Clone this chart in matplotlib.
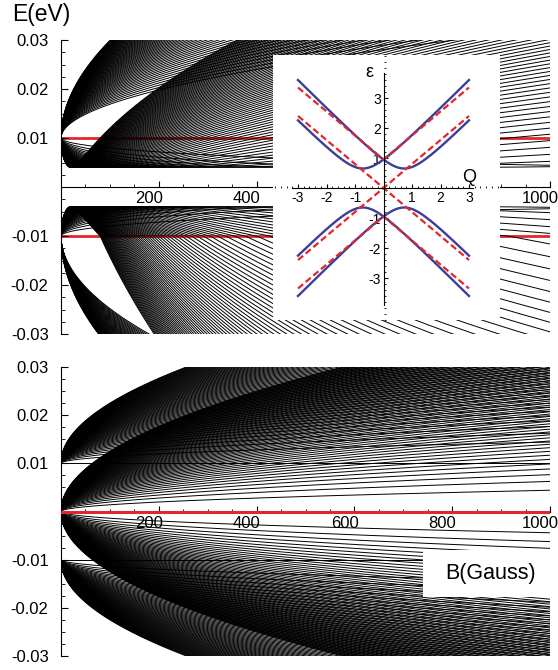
import numpy as np
import matplotlib.pyplot as plt
from matplotlib.patches import Rectangle
from matplotlib.ticker import MultipleLocator, FixedLocator
import matplotlib.transforms as mtransforms

plt.rcParams['font.family'] = ['Liberation Sans', 'DejaVu Sans']

# field axis and level indices
B = np.linspace(0, 1000, 2001)
level_n = np.arange(1, 81)

# energies (eV)
E0 = 0.01             # level position at B = 0
E_min_top = 0.004     # bottom of the mexican hat (top panel)
rate_top = 5.25e-8    # level rate c (eV^2 / G), coupled case
rate_bot = 1.95e-8    # level rate c (eV^2 / G), uncoupled case
first_out_up = 10     # lowest outward level seen above +E0
first_out_low = 34    # lowest outward level seen below -E0
stretch_out_low = 1.15
stretch_ret_low = 2.1

# inset spectrum parameters (dimensionless)
Q = np.linspace(-3, 3, 601)
gap_in = 0.65
shift_in = 0.69
vel_in = 0.95
vel_dash = 0.8
E0_in = 0.95

black_lw = 0.7
red = '#e3262d'
blue = '#3a3f98'

fig = plt.figure(figsize=(5.58, 6.70), dpi=100)
ax1 = fig.add_axes([61/558, (670-334)/670, 489/558, 294/670])
ax2 = fig.add_axes([61/558, (670-656)/670, 489/558, 289/670])

lam = np.sqrt(E0**2 - E_min_top**2)


def stretch(f, m):
    return np.where(f > E0, E0 + m * (f - E0), f)


# top panel: coupled bands
for n in level_n:
    k = np.sqrt(n * rate_top * B)
    out = np.sqrt(E_min_top**2 + (k + lam)**2)
    ret = np.sqrt(E_min_top**2 + (k - lam)**2)
    if n >= first_out_up:
        ax1.plot(B, out, color='k', lw=black_lw)
    ax1.plot(B, ret, color='k', lw=black_lw)
    if n >= first_out_low:
        ax1.plot(B, -stretch(out, stretch_out_low), color='k', lw=black_lw)
    ax1.plot(B, -stretch(ret, stretch_ret_low), color='k', lw=black_lw)
ax1.plot([0, 1000], [E0, E0], color=red, lw=2, zorder=1)
ax1.plot([0, 1000], [-E0, -E0], color=red, lw=2, zorder=1)

# bottom panel: uncoupled bands
ax2.plot([0, 1000], [E0, E0], color='k', lw=black_lw)
ax2.plot([0, 1000], [-E0, -E0], color='k', lw=black_lw)
for n in level_n:
    k = np.sqrt(n * rate_bot * B)
    for s in (1, -1):
        ax2.plot(B, s * k, color='k', lw=black_lw)
        ax2.plot(B, s * (E0 + k), color='k', lw=black_lw)
ax2.plot([0, 1000], [0, 0], color=red, lw=2.2, zorder=3)

for ax, xlabs in ((ax1, ['200', '400', '', '', '1000']),
                  (ax2, ['200', '400', '600', '800', '1000'])):
    ax.set_xlim(0, 1000)
    ax.set_ylim(-0.03, 0.03)
    ax.spines['top'].set_visible(False)
    ax.spines['right'].set_visible(False)
    ax.spines['bottom'].set_position(('data', 0))
    ax.spines['left'].set_linewidth(0.8)
    ax.spines['bottom'].set_linewidth(0.8)
    ax.xaxis.set_major_locator(FixedLocator([200, 400, 600, 800, 1000]))
    ax.xaxis.set_minor_locator(MultipleLocator(50))
    ax.set_yticks([-0.03, -0.02, -0.01, 0.01, 0.02, 0.03])
    ax.set_yticklabels(['-0.03', '-0.02', '-0.01', '0.01', '0.02', '0.03'])
    ax.yaxis.set_minor_locator(MultipleLocator(0.0025))
    ax.tick_params(axis='both', which='both', direction='in', labelsize=12)
    ax.tick_params(axis='x', which='major', length=4, pad=3)
    ax.tick_params(axis='x', which='minor', length=2)
    ax.tick_params(axis='y', which='major', length=5, pad=9)
    ax.tick_params(axis='y', which='minor', length=3)
    ax.set_xticklabels(xlabs)
    shift = mtransforms.ScaledTranslation(-7/72, 0, fig.dpi_scale_trans)
    for lab in ax.get_xticklabels():
        lab.set_transform(lab.get_transform() + shift)
    for lab in ax.get_xticklabels() + ax.get_yticklabels():
        lab.set_zorder(10)

fig.text(12/558, 1 - 14/670, 'E(eV)', fontsize=16.5, va='center', ha='left')

ax2.add_patch(Rectangle((423/558, (670-597)/670), 127/558, 47/670,
                        transform=fig.transFigure, facecolor='white',
                        edgecolor='none', zorder=20))
fig.text(491/558, 1 - 573/670, 'B(Gauss)', fontsize=15.5, ha='center',
         va='center', zorder=21)

# inset
axi = fig.add_axes([273/558, (670-320)/670, 227/558, 265/670])
axi.set_facecolor('white')
axi.set_zorder(30)
axi.set_xlim((273-383.5)/28.5, (500-383.5)/28.5)
axi.set_ylim((188-320)/30.0, (188-55)/30.0)
for sp in ('top', 'right'):
    axi.spines[sp].set_visible(False)
axi.spines['left'].set_position(('data', 0))
axi.spines['bottom'].set_position(('data', 0))
axi.spines['left'].set_bounds(-3.9, 3.85)
axi.spines['bottom'].set_bounds(-3.2, 3.15)
axi.spines['left'].set_linewidth(0.8)
axi.spines['bottom'].set_linewidth(0.8)
axi.set_xticks([-3, -2, -1, 1, 2, 3])
axi.set_xticklabels(['-3', '-2', '-1', '1', '2', '3'])
axi.set_yticks([-3, -2, -1, 1, 2, 3])
axi.set_yticklabels(['-3', '-2', '-1', '1', '2', '3'])
axi.xaxis.set_minor_locator(MultipleLocator(0.2))
axi.yaxis.set_minor_locator(MultipleLocator(0.2))
axi.tick_params(axis='both', which='both', direction='in', labelsize=10, pad=2)
axi.tick_params(which='major', length=3)
axi.tick_params(which='minor', length=1.5)

aQ = np.abs(Q)
for s in (1, -1):
    axi.plot(Q, s * np.sqrt(gap_in**2 + (vel_in * aQ + shift_in)**2), color=blue, lw=1.7)
    axi.plot(Q, s * np.sqrt(gap_in**2 + (vel_in * aQ - shift_in)**2), color=blue, lw=1.7)
    axi.plot(Q, s * (E0_in + vel_dash * aQ), color=red, lw=1.6, ls=(0, (3, 1.5)))
    axi.plot(Q, s * vel_dash * aQ, color=red, lw=1.6, ls=(0, (3, 1.5)))
axi.text(-0.5, 3.85, '\u03b5', fontsize=13, ha='center', va='center')
axi.text(3.0, 0.35, 'Q', fontsize=13, ha='center', va='center')

fig.savefig('out.png', dpi=100)
